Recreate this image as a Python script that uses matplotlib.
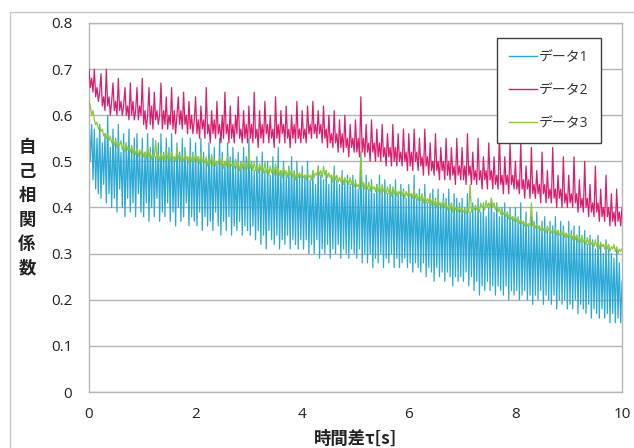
import numpy as np
import matplotlib
matplotlib.use("Agg")
import matplotlib.pyplot as plt
from matplotlib.patches import Rectangle

plt.rcParams['font.family'] = ['Open Sans', 'Noto Sans CJK JP', 'DejaVu Sans']

# lag time axis [s], sampled every 0.025 s
tau = np.linspace(0.0, 10.0, 401)

data1 = [
    0.60, 0.50, 0.58, 0.46, 0.57, 0.44, 0.55, 0.43, 0.58, 0.42, 0.54, 0.45, 0.56, 0.41, 0.60, 0.43, 0.53, 0.40, 0.57, 0.42,
    0.55, 0.39, 0.58, 0.44, 0.52, 0.40, 0.56, 0.38, 0.54, 0.42, 0.57, 0.39, 0.53, 0.41, 0.55, 0.38, 0.56, 0.43, 0.52, 0.39,
    0.55, 0.38, 0.52, 0.41, 0.56, 0.37, 0.53, 0.40, 0.55, 0.38, 0.51, 0.42, 0.54, 0.37, 0.56, 0.39, 0.52, 0.38, 0.55, 0.41,
    0.53, 0.37, 0.56, 0.39, 0.51, 0.36, 0.54, 0.40, 0.52, 0.37, 0.55, 0.38, 0.53, 0.41, 0.51, 0.36, 0.55, 0.38, 0.52, 0.37,
    0.54, 0.36, 0.51, 0.39, 0.55, 0.35, 0.52, 0.38, 0.50, 0.36, 0.54, 0.37, 0.51, 0.35, 0.53, 0.39, 0.50, 0.36, 0.55, 0.34,
    0.52, 0.37, 0.50, 0.35, 0.54, 0.38, 0.51, 0.34, 0.53, 0.36, 0.49, 0.35, 0.52, 0.37, 0.50, 0.34, 0.53, 0.36, 0.51, 0.35,
    0.55, 0.34, 0.50, 0.36, 0.48, 0.33, 0.51, 0.35, 0.49, 0.32, 0.52, 0.34, 0.48, 0.31, 0.50, 0.35, 0.47, 0.33, 0.51, 0.32,
    0.49, 0.34, 0.53, 0.31, 0.48, 0.33, 0.50, 0.32, 0.47, 0.34, 0.49, 0.31, 0.51, 0.33, 0.48, 0.32, 0.50, 0.31, 0.47, 0.33,
    0.49, 0.31, 0.47, 0.33, 0.50, 0.30, 0.46, 0.32, 0.48, 0.30, 0.45, 0.33, 0.49, 0.29, 0.47, 0.31, 0.46, 0.30, 0.48, 0.32,
    0.45, 0.29, 0.47, 0.31, 0.49, 0.30, 0.46, 0.32, 0.45, 0.29, 0.48, 0.31, 0.46, 0.30, 0.47, 0.29, 0.45, 0.31, 0.47, 0.30,
    0.46, 0.29, 0.44, 0.31, 0.52, 0.28, 0.45, 0.30, 0.47, 0.28, 0.44, 0.30, 0.46, 0.27, 0.43, 0.29, 0.45, 0.28, 0.47, 0.30,
    0.44, 0.27, 0.46, 0.29, 0.43, 0.28, 0.45, 0.30, 0.44, 0.27, 0.46, 0.29, 0.43, 0.27, 0.45, 0.28, 0.44, 0.29, 0.42, 0.27,
    0.45, 0.28, 0.43, 0.26, 0.47, 0.28, 0.42, 0.27, 0.44, 0.26, 0.42, 0.28, 0.45, 0.25, 0.41, 0.27, 0.43, 0.26, 0.44, 0.24,
    0.42, 0.27, 0.44, 0.25, 0.41, 0.26, 0.43, 0.24, 0.42, 0.26, 0.44, 0.25, 0.41, 0.23, 0.43, 0.25, 0.42, 0.24, 0.41, 0.25,
    0.42, 0.24, 0.40, 0.26, 0.43, 0.23, 0.39, 0.25, 0.41, 0.22, 0.40, 0.24, 0.42, 0.21, 0.39, 0.23, 0.41, 0.22, 0.38, 0.24,
    0.40, 0.22, 0.42, 0.23, 0.39, 0.21, 0.41, 0.23, 0.38, 0.22, 0.40, 0.21, 0.41, 0.23, 0.39, 0.20, 0.40, 0.22, 0.38, 0.21,
    0.40, 0.22, 0.38, 0.20, 0.41, 0.21, 0.37, 0.22, 0.39, 0.20, 0.36, 0.21, 0.38, 0.19, 0.37, 0.21, 0.39, 0.20, 0.36, 0.22,
    0.37, 0.19, 0.38, 0.21, 0.35, 0.20, 0.37, 0.19, 0.36, 0.21, 0.38, 0.18, 0.35, 0.20, 0.37, 0.19, 0.36, 0.20, 0.34, 0.18,
    0.37, 0.19, 0.35, 0.18, 0.36, 0.20, 0.34, 0.17, 0.36, 0.19, 0.33, 0.18, 0.35, 0.17, 0.32, 0.19, 0.34, 0.16, 0.33, 0.18,
    0.31, 0.17, 0.34, 0.16, 0.32, 0.18, 0.30, 0.16, 0.33, 0.17, 0.31, 0.15, 0.30, 0.17, 0.29, 0.15, 0.31, 0.16, 0.28, 0.15,
    0.24,
]

data2 = [
    0.70, 0.66, 0.68, 0.65, 0.70, 0.64, 0.66, 0.63, 0.65, 0.69, 0.62, 0.64, 0.61, 0.70, 0.62, 0.64, 0.60, 0.63, 0.67, 0.61,
    0.63, 0.60, 0.68, 0.61, 0.63, 0.60, 0.62, 0.66, 0.60, 0.62, 0.59, 0.67, 0.60, 0.63, 0.59, 0.61, 0.66, 0.59, 0.62, 0.60,
    0.68, 0.58, 0.61, 0.57, 0.60, 0.66, 0.58, 0.62, 0.57, 0.65, 0.59, 0.61, 0.58, 0.60, 0.67, 0.57, 0.61, 0.58, 0.64, 0.57,
    0.60, 0.58, 0.66, 0.57, 0.61, 0.56, 0.60, 0.64, 0.58, 0.61, 0.57, 0.65, 0.58, 0.60, 0.56, 0.63, 0.57, 0.60, 0.56, 0.59,
    0.64, 0.56, 0.59, 0.55, 0.62, 0.57, 0.59, 0.55, 0.66, 0.56, 0.58, 0.54, 0.61, 0.56, 0.59, 0.55, 0.63, 0.56, 0.58, 0.54,
    0.60, 0.55, 0.65, 0.56, 0.58, 0.54, 0.62, 0.55, 0.58, 0.54, 0.60, 0.56, 0.64, 0.55, 0.57, 0.54, 0.61, 0.55, 0.58, 0.54,
    0.62, 0.55, 0.58, 0.54, 0.65, 0.55, 0.57, 0.53, 0.61, 0.55, 0.58, 0.54, 0.63, 0.56, 0.58, 0.54, 0.60, 0.55, 0.57, 0.53,
    0.64, 0.55, 0.58, 0.54, 0.61, 0.56, 0.58, 0.54, 0.62, 0.55, 0.57, 0.53, 0.60, 0.55, 0.58, 0.54, 0.63, 0.55, 0.57, 0.54,
    0.61, 0.55, 0.57, 0.54, 0.62, 0.56, 0.58, 0.55, 0.63, 0.56, 0.58, 0.55, 0.61, 0.56, 0.58, 0.54, 0.62, 0.55, 0.57, 0.53,
    0.60, 0.54, 0.56, 0.53, 0.61, 0.54, 0.56, 0.52, 0.59, 0.53, 0.56, 0.52, 0.60, 0.53, 0.55, 0.51, 0.58, 0.53, 0.55, 0.52,
    0.59, 0.52, 0.55, 0.51, 0.64, 0.52, 0.55, 0.51, 0.58, 0.52, 0.54, 0.50, 0.59, 0.52, 0.54, 0.50, 0.57, 0.51, 0.54, 0.50,
    0.58, 0.51, 0.53, 0.49, 0.56, 0.51, 0.53, 0.49, 0.58, 0.50, 0.53, 0.49, 0.56, 0.50, 0.52, 0.49, 0.57, 0.50, 0.52, 0.48,
    0.56, 0.49, 0.52, 0.48, 0.57, 0.50, 0.52, 0.48, 0.55, 0.49, 0.51, 0.47, 0.57, 0.49, 0.51, 0.47, 0.54, 0.48, 0.50, 0.47,
    0.56, 0.48, 0.50, 0.46, 0.53, 0.48, 0.50, 0.46, 0.55, 0.47, 0.50, 0.46, 0.53, 0.47, 0.49, 0.45, 0.55, 0.47, 0.49, 0.46,
    0.53, 0.46, 0.49, 0.45, 0.56, 0.47, 0.49, 0.45, 0.52, 0.46, 0.48, 0.45, 0.55, 0.46, 0.48, 0.44, 0.51, 0.46, 0.48, 0.44,
    0.54, 0.46, 0.48, 0.44, 0.51, 0.45, 0.47, 0.44, 0.56, 0.45, 0.47, 0.43, 0.51, 0.45, 0.47, 0.43, 0.54, 0.45, 0.47, 0.44,
    0.50, 0.44, 0.46, 0.43, 0.54, 0.44, 0.46, 0.42, 0.49, 0.44, 0.46, 0.42, 0.53, 0.43, 0.45, 0.42, 0.48, 0.43, 0.45, 0.41,
    0.52, 0.43, 0.45, 0.41, 0.48, 0.42, 0.44, 0.41, 0.53, 0.42, 0.44, 0.40, 0.47, 0.42, 0.44, 0.40, 0.51, 0.41, 0.43, 0.40,
    0.47, 0.41, 0.43, 0.40, 0.51, 0.41, 0.43, 0.39, 0.46, 0.40, 0.42, 0.39, 0.50, 0.40, 0.42, 0.38, 0.45, 0.39, 0.41, 0.38,
    0.49, 0.39, 0.41, 0.37, 0.44, 0.38, 0.40, 0.37, 0.47, 0.38, 0.40, 0.36, 0.43, 0.37, 0.39, 0.36, 0.44, 0.37, 0.39, 0.36,
    0.40,
]

data3 = [
    0.63, 0.62, 0.60, 0.61, 0.59, 0.58, 0.585, 0.57, 0.575, 0.565, 0.57, 0.555, 0.56, 0.55, 0.56, 0.545, 0.555, 0.54, 0.55, 0.535,
    0.545, 0.53, 0.54, 0.535, 0.545, 0.525, 0.535, 0.52, 0.54, 0.525, 0.53, 0.52, 0.535, 0.515, 0.525, 0.515, 0.53, 0.51, 0.525, 0.515,
    0.525, 0.51, 0.52, 0.505, 0.53, 0.51, 0.52, 0.505, 0.515, 0.51, 0.545, 0.505, 0.515, 0.50, 0.52, 0.505, 0.515, 0.50, 0.525, 0.505,
    0.515, 0.50, 0.52, 0.505, 0.51, 0.50, 0.53, 0.505, 0.515, 0.50, 0.51, 0.50, 0.52, 0.505, 0.51, 0.495, 0.515, 0.50, 0.51, 0.50,
    0.515, 0.50, 0.51, 0.495, 0.52, 0.50, 0.505, 0.495, 0.51, 0.49, 0.505, 0.495, 0.515, 0.49, 0.505, 0.49, 0.50, 0.495, 0.51, 0.49,
    0.505, 0.485, 0.50, 0.49, 0.51, 0.485, 0.50, 0.49, 0.495, 0.485, 0.505, 0.485, 0.50, 0.48, 0.495, 0.485, 0.50, 0.48, 0.495, 0.485,
    0.52, 0.485, 0.495, 0.48, 0.50, 0.48, 0.49, 0.475, 0.495, 0.48, 0.49, 0.475, 0.50, 0.475, 0.485, 0.47, 0.49, 0.475, 0.485, 0.47,
    0.495, 0.47, 0.485, 0.47, 0.48, 0.465, 0.49, 0.47, 0.48, 0.465, 0.485, 0.47, 0.48, 0.465, 0.475, 0.46, 0.48, 0.465, 0.475, 0.465,
    0.475, 0.465, 0.47, 0.46, 0.475, 0.465, 0.47, 0.46, 0.48, 0.465, 0.475, 0.47, 0.485, 0.47, 0.48, 0.465, 0.49, 0.47, 0.48, 0.465,
    0.475, 0.465, 0.47, 0.455, 0.475, 0.46, 0.47, 0.455, 0.465, 0.455, 0.47, 0.45, 0.465, 0.455, 0.46, 0.45, 0.465, 0.45, 0.46, 0.445,
    0.455, 0.445, 0.45, 0.44, 0.52, 0.445, 0.455, 0.44, 0.45, 0.44, 0.455, 0.435, 0.45, 0.44, 0.445, 0.435, 0.45, 0.435, 0.445, 0.43,
    0.45, 0.435, 0.44, 0.43, 0.445, 0.43, 0.44, 0.425, 0.445, 0.43, 0.44, 0.425, 0.435, 0.43, 0.44, 0.425, 0.435, 0.42, 0.435, 0.425,
    0.435, 0.425, 0.43, 0.42, 0.44, 0.42, 0.43, 0.415, 0.425, 0.415, 0.43, 0.41, 0.425, 0.41, 0.42, 0.41, 0.425, 0.405, 0.42, 0.405,
    0.415, 0.40, 0.42, 0.405, 0.41, 0.40, 0.415, 0.40, 0.41, 0.395, 0.405, 0.395, 0.41, 0.39, 0.405, 0.395, 0.40, 0.39, 0.40, 0.39,
    0.40, 0.39, 0.395, 0.385, 0.40, 0.39, 0.45, 0.39, 0.40, 0.395, 0.405, 0.395, 0.40, 0.39, 0.41, 0.40, 0.405, 0.395, 0.415, 0.40,
    0.41, 0.40, 0.42, 0.40, 0.41, 0.395, 0.405, 0.39, 0.40, 0.385, 0.395, 0.385, 0.39, 0.38, 0.39, 0.375, 0.385, 0.375, 0.38, 0.37,
    0.38, 0.37, 0.375, 0.365, 0.375, 0.365, 0.37, 0.36, 0.37, 0.36, 0.365, 0.36, 0.41, 0.36, 0.365, 0.355, 0.365, 0.355, 0.36, 0.35,
    0.36, 0.35, 0.355, 0.345, 0.36, 0.35, 0.355, 0.345, 0.35, 0.345, 0.355, 0.34, 0.35, 0.34, 0.345, 0.34, 0.35, 0.335, 0.345, 0.335,
    0.345, 0.335, 0.34, 0.33, 0.345, 0.33, 0.34, 0.325, 0.335, 0.325, 0.34, 0.325, 0.33, 0.32, 0.335, 0.32, 0.33, 0.32, 0.325, 0.315,
    0.33, 0.315, 0.325, 0.31, 0.325, 0.315, 0.32, 0.31, 0.325, 0.31, 0.32, 0.305, 0.315, 0.31, 0.32, 0.305, 0.315, 0.30, 0.31, 0.305,
    0.31,
]

series_labels = ['データ1', 'データ2', 'データ3']
series_colors = ['#2aa8d6', '#d81f6d', '#8cc63f']
series_z = [2, 4, 3]
x_ticks = [0, 2, 4, 6, 8, 10]
y_ticks = [0, 0.1, 0.2, 0.3, 0.4, 0.5, 0.6, 0.7, 0.8]
y_ticklabels = ['0', '0.1', '0.2', '0.3', '0.4', '0.5', '0.6', '0.7', '0.8']

W, H = 634, 448
fig = plt.figure(figsize=(W / 100, H / 100), dpi=100)

# outer chart frame
fig.patches.append(Rectangle((10 / W, -0.2), 1.5, 1.2 - 12 / H,
                             transform=fig.transFigure, fill=False,
                             edgecolor='#c6c6c6', linewidth=1.0))

ax = fig.add_axes([89 / W, 1 - 392 / H, (622 - 89) / W, (392 - 23) / H])

for vals, lab, col, z in zip([data1, data2, data3], series_labels, series_colors, series_z):
    ax.plot(tau, vals, color=col, lw=0.9, label=lab, zorder=z)

ax.set_xlim(0, 10)
ax.set_ylim(0, 0.8)
ax.set_xticks(x_ticks)
ax.set_xticklabels([str(v) for v in x_ticks])
ax.set_yticks(y_ticks)
ax.set_yticklabels(y_ticklabels)
ax.tick_params(length=0, labelsize=11, colors='#222222')
ax.tick_params(axis='y', pad=12)
ax.tick_params(axis='x', pad=11)
ax.grid(axis='y', color='#b5b5b5', lw=1.0)
ax.set_axisbelow(True)
for s in ax.spines.values():
    s.set_color('#b5b5b5')
    s.set_linewidth(1.0)

leg = ax.legend(loc='upper left', bbox_to_anchor=(497 / W, 1 - 38 / H),
                bbox_transform=fig.transFigure, frameon=True, fancybox=False,
                edgecolor='#404040', framealpha=1, fontsize=10,
                handlelength=2.0, handletextpad=0.2, labelspacing=1.3,
                borderpad=0.85, borderaxespad=0)
leg.set_zorder(10)
leg.get_frame().set_linewidth(1.0)
for t in leg.get_texts():
    t.set_color('#333333')
for h in leg.get_lines():
    h.set_linewidth(1.0)

fig.text(27 / W, 1 - 208 / H, '自\n己\n相\n関\n係\n数', ha='center', va='center',
         fontsize=12.5, fontweight='bold', linespacing=1.45,
         family=['Noto Sans CJK JP', 'DejaVu Sans'], color='#222222')
fig.text(356 / W, 1 - 439 / H, '時間差τ[s]', ha='center', va='center',
         fontsize=12.5, fontweight='bold',
         family=['Noto Sans CJK JP', 'DejaVu Sans'], color='#222222')

fig.savefig('out.png', dpi=100)
